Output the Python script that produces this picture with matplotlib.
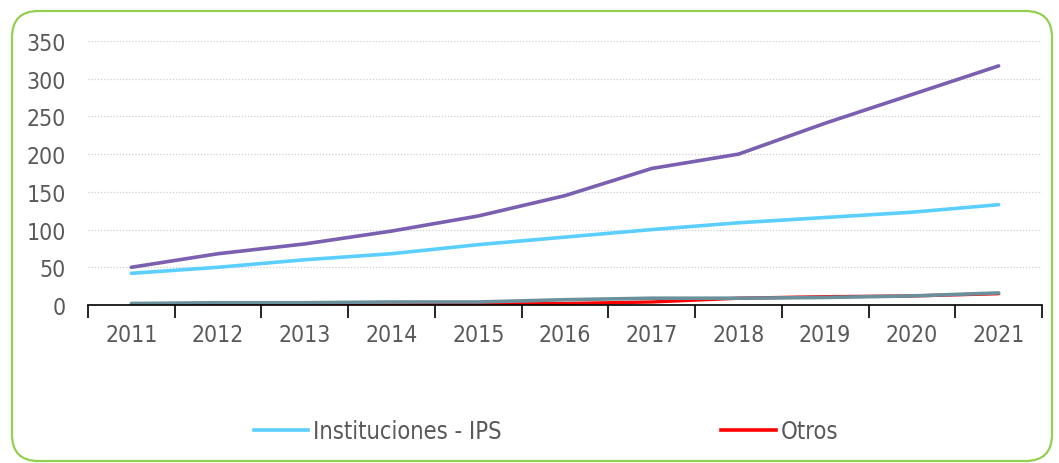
import matplotlib.pyplot as plt
from matplotlib.patches import FancyBboxPatch
from matplotlib.lines import Line2D

# ---- data ----
years = ["2011", "2012", "2013", "2014", "2015", "2016", "2017", "2018", "2019", "2020", "2021"]
total = [50, 68, 81, 98, 118, 145, 181, 200, 241, 279, 317]
instituciones_ips = [42, 50, 60, 68, 80, 90, 100, 109, 116, 123, 133]
grupo_gris = [2, 3, 3, 4, 4, 7, 9, 9, 10, 12, 16]
otros = [0, 0, 0, 0, 1, 2, 4, 9, 11, 12, 15]

plt.rcParams['font.family'] = ['DejaVu Sans']
plt.rcParams['font.stretch'] = 'condensed'
txt = '#595959'
fs = 16.5

fig = plt.figure(figsize=(10.59, 4.64), dpi=100)
fig.patches.append(FancyBboxPatch((12 / 1059, 2 / 464), 1040 / 1059, 450 / 464,
                                  boxstyle="round,pad=0,rounding_size=0.025",
                                  transform=fig.transFigure, facecolor='white',
                                  edgecolor='#92D050', linewidth=1.6, mutation_aspect=2.28,
                                  zorder=-5))

ax = fig.add_axes([88 / 1059, 1 - 306 / 464, (1042 - 88) / 1059, (306 - 42) / 464])
ax.set_facecolor('none')
x = list(range(len(years)))

ax.plot(x, otros, color='#FF0000', lw=2.4, solid_capstyle='round')
ax.plot(x, grupo_gris, color='#6A909C', lw=2.6, solid_capstyle='round')
ax.plot(x, instituciones_ips, color='#5BCFFF', lw=2.6, solid_capstyle='round')
ax.plot(x, total, color='#7B5FB0', lw=2.6, solid_capstyle='round')

ax.set_ylim(0, 350)
ax.set_xlim(-0.5, len(years) - 0.5)
ax.set_yticks(range(0, 351, 50))
ax.set_xticks([i - 0.5 for i in range(len(years) + 1)])
ax.set_xticklabels([])
ax.set_xticks(x, minor=True)
ax.set_xticklabels(years, minor=True)
ax.tick_params(axis='x', which='major', length=9, width=1.2, direction='out', color='black')
ax.tick_params(axis='x', which='minor', length=0, pad=13, labelsize=fs, labelcolor=txt)
ax.tick_params(axis='y', length=0, pad=16, labelsize=fs, labelcolor=txt)

for s in ['top', 'right', 'left']:
    ax.spines[s].set_visible(False)
ax.spines['bottom'].set_color('black')
ax.spines['bottom'].set_linewidth(1.2)
ax.grid(axis='y', color='#CFCFCF', linestyle=(0, (1, 1.5)), linewidth=0.9)
ax.set_axisbelow(True)

handles = [Line2D([], [], color='#5BCFFF', lw=2.6),
           Line2D([], [], color='#FF0000', lw=2.6)]
leg = fig.legend(handles, ['Instituciones - IPS', 'Otros'], loc='center',
                 bbox_to_anchor=(546 / 1059, 1 - 432 / 464), ncol=2, frameon=False,
                 fontsize=17, handlelength=2.3, handletextpad=0.2, columnspacing=9.3)
for t in leg.get_texts():
    t.set_color(txt)

fig.savefig('out.png', dpi=100)
